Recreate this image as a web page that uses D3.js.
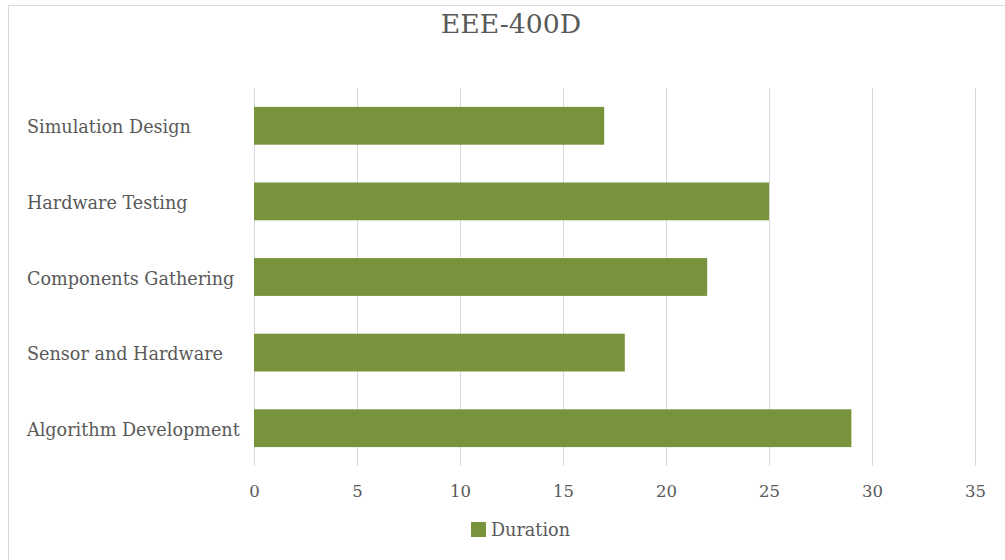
<!DOCTYPE html>
<html><head><meta charset="utf-8">
<script src="https://cdn.jsdelivr.net/npm/d3@7"></script>
<style>body{margin:0;background:#fff;} svg{display:block;}</style>
</head><body>
<script>
const categories = ["Simulation Design","Hardware Testing","Components Gathering","Sensor and Hardware","Algorithm Development"];
const durations = [17,25,22,18,29];
const xTicks = [0,5,10,15,20,25,30,35];
const title = "EEE-400D";
const seriesName = "Duration";

const W=1005,H=560;
const svg=d3.select("body").append("svg").attr("width",W).attr("height",H);
const font="'DejaVu Serif', serif";
svg.append("rect").attr("x",8.5).attr("y",5.5).attr("width",1000).attr("height",560)
  .attr("fill","#fff").attr("stroke","#d9d9d9");

const x=d3.scaleLinear().domain([0,35]).range([254,975]);
const y=d3.scaleBand().domain(categories).range([88,466]).paddingInner(0.5).paddingOuter(0.25);

const g=svg.append("g");
g.selectAll("line.grid").data(xTicks).join("line").attr("class","grid")
  .attr("x1",d=>Math.round(x(d))+0.5).attr("x2",d=>Math.round(x(d))+0.5)
  .attr("y1",88).attr("y2",466).attr("stroke","#d9d9d9").attr("stroke-width",1);

g.selectAll("rect.bar").data(durations).join("rect").attr("class","bar")
  .attr("x",x(0)).attr("y",(d,i)=>y(categories[i]))
  .attr("width",d=>x(d)-x(0)).attr("height",y.bandwidth()).attr("fill","#77933c");

const xAxis=d3.axisBottom(x).tickValues(xTicks).tickSize(0).tickPadding(0);
const ax=svg.append("g").attr("transform","translate(0,497)").call(xAxis);
ax.select(".domain").remove();
ax.selectAll("text").attr("dy",0).attr("font-family",font).attr("font-size",16.5).attr("fill","#595959");

svg.selectAll("text.cat").data(categories).join("text").attr("class","cat")
  .attr("x",27).attr("y",d=>y(d)+y.bandwidth()/2+7.5)
  .attr("font-family",font).attr("font-size",17.6).attr("fill","#595959").text(d=>d);

svg.append("text").attr("x",511).attr("y",33).attr("text-anchor","middle")
  .attr("font-family",font).attr("font-size",26.7).attr("fill","#595959").text(title);

svg.append("rect").attr("x",471).attr("y",522).attr("width",15).attr("height",15).attr("fill","#77933c");
svg.append("text").attr("x",491).attr("y",536).attr("font-family",font).attr("font-size",17.6)
  .attr("fill","#595959").text(seriesName);
</script>
</body></html>
